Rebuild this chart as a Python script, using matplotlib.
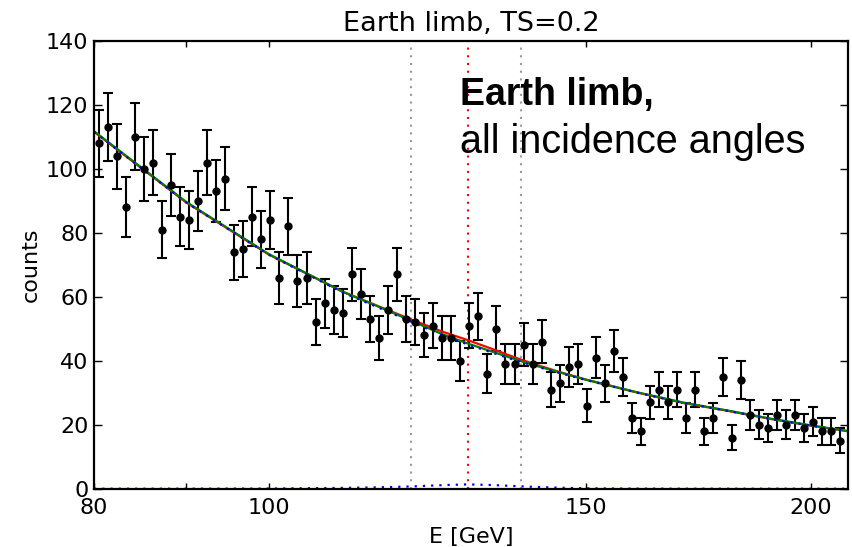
import numpy as np
import matplotlib
matplotlib.use('Agg')
import matplotlib.pyplot as plt

# binning of the spectrum (log-uniform bins)
e_lo, e_hi, n_bins = 80.0, 208.8, 83

counts = [108, 113, 104, 88, 110, 100, 102, 81, 95, 85, 84, 90, 102, 93, 97, 74, 75, 85, 78, 84, 66,
          82, 65, 66, 52, 58, 56, 55, 67, 61, 53, 47, 56, 67, 53, 52, 48, 51, 47, 47, 40,
          51, 54, 36, 50, 39, 39, 45, 39, 46, 31, 33, 38, 39, 26, 41, 33, 43, 35, 22, 18,
          27, 31, 27, 31, 22, 31, 18, 22, 35, 16, 34, 23, 20, 19, 23, 20, 23, 19, 21, 18, 18, 15]

# fit curves
e_model = [80, 90, 100, 110, 115, 120, 125, 129, 133, 137, 140, 145, 150, 160, 170, 180, 190, 200, 210]
null_fit = [111.8, 89.7, 73.4, 61.5, 57.0, 52.5, 48.2, 45.4, 42.9, 40.5, 38.8, 36.4, 34.1, 30.2, 26.9, 24.4, 21.9, 19.8, 18.0]
alt_bkg = [111.6, 89.5, 73.2, 61.3, 56.7, 52.2, 47.9, 45.1, 42.6, 40.2, 38.6, 36.2, 34.0, 30.1, 26.8, 24.3, 21.8, 19.7, 17.9]
alt_sig = [0.0, 0.01, 0.05, 0.25, 0.42, 0.7, 1.12, 1.35, 1.15, 0.83, 0.6, 0.3, 0.12, 0.03, 0.0, 0.0, 0.0, 0.0, 0.0]

e_line = 129.0
e_win = [120.0, 138.0]

edges = np.geomspace(e_lo, e_hi, n_bins + 1)
centers = np.sqrt(edges[:-1] * edges[1:])
counts = np.array(counts)
alt_total = np.add(alt_bkg, alt_sig)

fig = plt.figure(figsize=(8.53, 5.47), dpi=100)
ax = fig.add_axes([94/853, 58.3/547, 754/853, 447.7/547])

dots = (0, (1, 2.7))
for e in e_win:
    ax.axvline(e, color='#999999', ls=dots, lw=1.5)
ax.axvline(e_line, color='red', ls=dots, lw=1.5)

ax.errorbar(centers, counts, yerr=np.sqrt(counts), fmt='o', color='black',
            ms=5, elinewidth=1.5, capsize=3.6, capthick=1.5)

ax.plot(e_model, alt_total, color='red', lw=1.6)
ax.plot(e_model, null_fit, color='green', lw=1.6)
ax.plot(e_model, alt_bkg, color='blue', ls=dots, lw=1.6)
ax.plot(e_model, alt_sig, color='blue', ls=dots, lw=1.6)

ax.set_xscale('log')
ax.set_xlim(80, 209.7)
ax.set_ylim(0, 140)
ax.set_xticks([80, 100, 150, 200])
ax.set_xticklabels(['80', '100', '150', '200'])
ax.set_xticks([90], minor=True)
ax.set_xticklabels([''], minor=True)
ax.set_yticks(range(0, 141, 20))

ax.tick_params(axis='both', which='both', direction='in', top=True, right=True, labelsize=16)
ax.tick_params(axis='x', which='both', length=4.5, width=1, pad=7)
ax.tick_params(axis='y', length=6, width=1, pad=4)
for s in ax.spines.values():
    s.set_linewidth(1.6)

ax.set_title('Earth limb, TS=0.2', fontsize=19.5, pad=7)
ax.set_xlabel('E [GeV]', fontsize=16, labelpad=6)
ax.set_ylabel('counts', fontsize=16, labelpad=4)

ax.text(0.4854, 0.857, 'Earth limb,', transform=ax.transAxes, fontsize=27,
        fontweight='bold', family='Liberation Sans', va='baseline')
ax.text(0.4854, 0.749, 'all incidence angles', transform=ax.transAxes, fontsize=28.5,
        family='Liberation Sans', va='baseline')

fig.savefig('out.png', dpi=100)
